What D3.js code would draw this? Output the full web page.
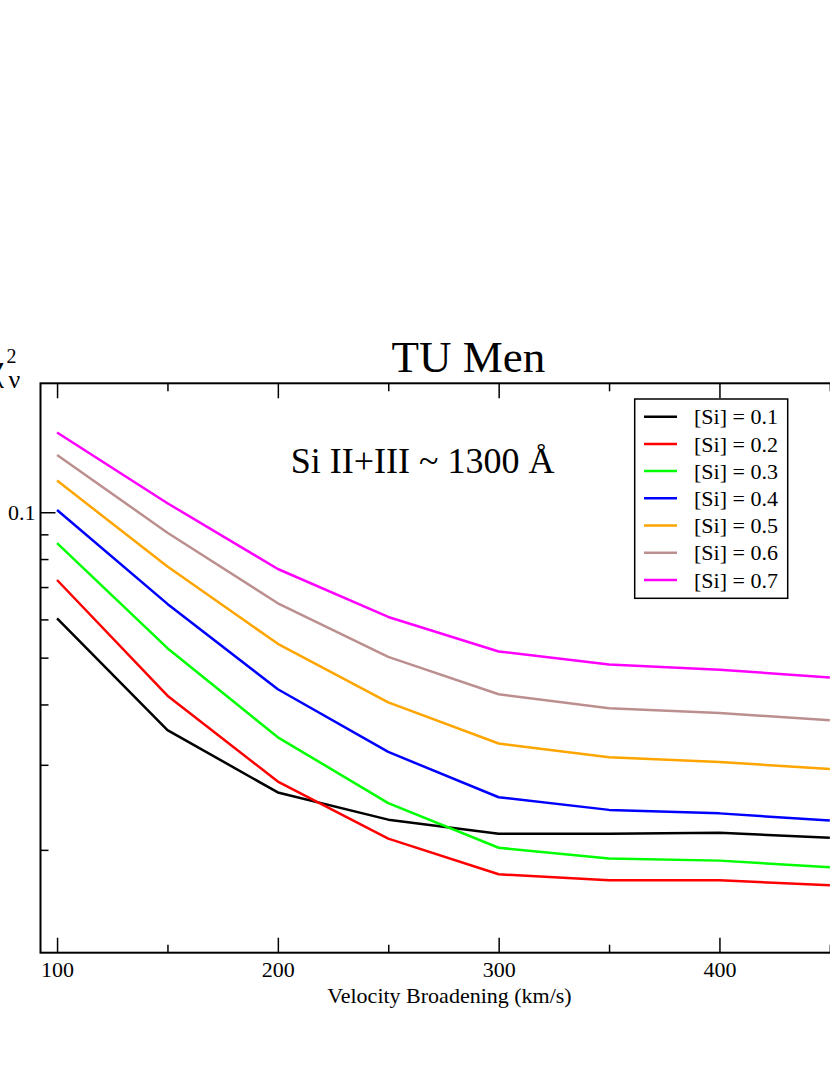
<!DOCTYPE html>
<html>
<head>
<meta charset="utf-8">
<script src="https://cdn.jsdelivr.net/npm/d3@7"></script>
<style>
  body { margin: 0; background: #fff; }
  svg { display: block; }
  text { font-family: "Liberation Serif", "DejaVu Serif", serif; }
</style>
</head>
<body>
<svg id="chart"></svg>
<script>
const width = 830
const height = 1075

// velocity broadening (km/s)
const velocities = [100, 150, 200, 250, 300, 350, 400, 450]

// reduced chi-square per [Si] abundance
const si01 = [0.0603, 0.0354, 0.0263, 0.0231, 0.0216, 0.0216, 0.0217, 0.0212]
const si02 = [0.0724, 0.0417, 0.0277, 0.0211, 0.0178, 0.0173, 0.0173, 0.0169]
const si03 = [0.0863, 0.0523, 0.0342, 0.0250, 0.0202, 0.0192, 0.0190, 0.0184]
const si04 = [0.1011, 0.0646, 0.0430, 0.0319, 0.0257, 0.0242, 0.0238, 0.0230]
const si05 = [0.1163, 0.0772, 0.0534, 0.0404, 0.0332, 0.0311, 0.0304, 0.0294]
const si06 = [0.1314, 0.0907, 0.0648, 0.0502, 0.0420, 0.0393, 0.0384, 0.0371]
const si07 = [0.1462, 0.1044, 0.0763, 0.0607, 0.0515, 0.0484, 0.0472, 0.0455]

const seriesNames = ['[Si] = 0.1', '[Si] = 0.2', '[Si] = 0.3', '[Si] = 0.4',
                     '[Si] = 0.5', '[Si] = 0.6', '[Si] = 0.7']
const seriesColors = ['#000000', '#ff0000', '#00ff00', '#0000ff',
                      '#ffa500', '#bc8f8f', '#ff00ff']
const seriesValues = [si01, si02, si03, si04, si05, si06, si07]

const xMajorTicks = [100, 200, 300, 400]
const xMinorTicks = [150, 250, 350, 450]
const yMajorTicks = [0.1]
const yMinorTicks = [0.02, 0.03, 0.04, 0.05, 0.06, 0.07, 0.08, 0.09]

const titleText = 'TU Men'
const noteText = 'Si II+III ~ 1300 Å'
const xLabel = 'Velocity Broadening (km/s)'

const margin = { left: 40.5, top: 383.3, right: 900.5, bottom: 952.7 }

const x = d3.scaleLinear()
    .domain([92.5, 482])
    .range([margin.left, margin.right])

const y = d3.scaleLog()
    .domain([0.01225, 0.1849])
    .range([margin.bottom, margin.top])

const svg = d3.select('#chart')
    .attr('width', width)
    .attr('height', height)

svg.append('defs').append('clipPath')
    .attr('id', 'plotclip')
    .append('rect')
    .attr('x', margin.left)
    .attr('y', margin.top)
    .attr('width', margin.right - margin.left)
    .attr('height', margin.bottom - margin.top)

// curves
const line = d3.line()
    .x((d, i) => x(velocities[i]))
    .y(d => y(d))

svg.append('g')
    .attr('clip-path', 'url(#plotclip)')
    .selectAll('path')
    .data(seriesValues)
    .join('path')
    .attr('d', d => line(d))
    .attr('fill', 'none')
    .attr('stroke', (d, i) => seriesColors[i])
    .attr('stroke-width', 2.5)
    .attr('stroke-linejoin', 'round')

// axes, ticks pointing inward
const styleAxis = g => {
    g.select('.domain').remove()
    g.selectAll('line').attr('stroke', '#000').attr('stroke-width', 1.5)
    g.selectAll('text')
        .attr('fill', '#000')
        .style('font-family', '"Liberation Serif", serif')
        .style('font-size', '22px')
}

svg.append('g')
    .attr('transform', `translate(0,${margin.bottom})`)
    .call(d3.axisBottom(x).tickValues(xMajorTicks).tickSize(-15).tickFormat(d3.format('d')))
    .call(styleAxis)
    .call(g => g.selectAll('text').attr('dy', '0.71em').attr('y', 9))

svg.append('g')
    .attr('transform', `translate(0,${margin.bottom})`)
    .call(d3.axisBottom(x).tickValues(xMinorTicks).tickSize(-8).tickFormat(''))
    .call(styleAxis)

svg.append('g')
    .attr('transform', `translate(0,${margin.top})`)
    .call(d3.axisTop(x).tickValues(xMajorTicks).tickSize(-15).tickFormat(''))
    .call(styleAxis)

svg.append('g')
    .attr('transform', `translate(0,${margin.top})`)
    .call(d3.axisTop(x).tickValues(xMinorTicks).tickSize(-8).tickFormat(''))
    .call(styleAxis)

svg.append('g')
    .attr('transform', `translate(${margin.left},0)`)
    .call(d3.axisLeft(y).tickValues(yMajorTicks).tickSize(-15).tickFormat(d3.format('.1f')))
    .call(styleAxis)
    .call(g => g.selectAll('text').attr('x', -5))

svg.append('g')
    .attr('transform', `translate(${margin.left},0)`)
    .call(d3.axisLeft(y).tickValues(yMinorTicks).tickSize(-8).tickFormat(''))
    .call(styleAxis)

// frame
svg.append('rect')
    .attr('x', margin.left)
    .attr('y', margin.top)
    .attr('width', margin.right - margin.left)
    .attr('height', margin.bottom - margin.top)
    .attr('fill', 'none')
    .attr('stroke', '#000')
    .attr('stroke-width', 2)

// title and labels
svg.append('text')
    .attr('x', 468.4)
    .attr('y', 372.3)
    .attr('text-anchor', 'middle')
    .style('font-size', '45px')
    .text(titleText)

svg.append('text')
    .attr('x', 290.7)
    .attr('y', 472.7)
    .style('font-size', '36px')
    .text(noteText)

svg.append('text')
    .attr('x', 449.5)
    .attr('y', 1003)
    .attr('text-anchor', 'middle')
    .style('font-size', '22px')
    .text(xLabel)

// chi^2_nu label, cut by the left edge as in the original
svg.append('text')
    .attr('x', -12)
    .attr('y', 380)
    .style('font-size', '36px')
    .text('χ')
svg.append('text')
    .attr('x', 6.5)
    .attr('y', 363.3)
    .style('font-size', '20px')
    .text('2')
svg.append('text')
    .attr('x', 8.5)
    .attr('y', 388.3)
    .style('font-size', '26px')
    .text('ν')

// legend
const legend = svg.append('g')

legend.append('rect')
    .attr('x', 634.7)
    .attr('y', 399)
    .attr('width', 153)
    .attr('height', 199.3)
    .attr('fill', '#fff')
    .attr('stroke', '#000')
    .attr('stroke-width', 1.5)

const rows = legend.selectAll('g.row')
    .data(seriesNames)
    .join('g')
    .attr('class', 'row')
    .attr('transform', (d, i) => `translate(0,${416.7 + i * 27.2})`)

rows.append('line')
    .attr('x1', 644)
    .attr('x2', 677)
    .attr('stroke', (d, i) => seriesColors[i])
    .attr('stroke-width', 2.5)

rows.append('text')
    .attr('x', 694)
    .attr('y', 7.6)
    .style('font-size', '22px')
    .text(d => d)
</script>
</body>
</html>
